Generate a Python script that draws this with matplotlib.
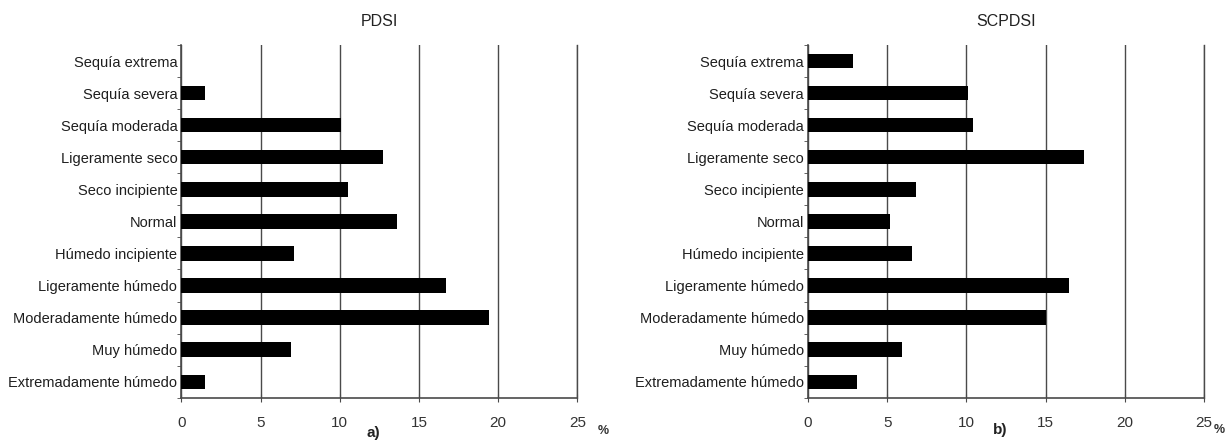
import matplotlib.pyplot as plt
import numpy as np

# Drought classes, top to bottom as in the figure
categories = ["Sequía extrema", "Sequía severa", "Sequía moderada",
              "Ligeramente seco", "Seco incipiente", "Normal",
              "Húmedo incipiente", "Ligeramente húmedo",
              "Moderadamente húmedo", "Muy húmedo", "Extremadamente húmedo"]

# Frequency (%) of each class
pdsi = [0.0, 1.5, 10.1, 12.7, 10.5, 13.6, 7.1, 16.7, 19.4, 6.9, 1.5]
scpdsi = [2.85, 10.1, 10.4, 17.4, 6.85, 5.2, 6.6, 16.5, 15.0, 5.95, 3.1]

xticks = [0, 5, 10, 15, 20, 25]
titles = ["PDSI", "SCPDSI"]
panel_labels = ["a)", "b)"]

plt.rcParams['font.family'] = ['Liberation Sans', 'DejaVu Sans']

fig = plt.figure(figsize=(12.26, 4.41), dpi=100)
ax_left = fig.add_axes([0.148, 0.098, 0.323, 0.80])
ax_right = fig.add_axes([0.659, 0.098, 0.323, 0.80])

grid_col = '#4a4a4a'

for ax, vals, title, lab in zip([ax_left, ax_right], [pdsi, scpdsi], titles, panel_labels):
    y = np.arange(len(categories))
    ax.barh(y, vals, height=0.45, color='black', zorder=3)
    ax.set_xlim(0, 25)
    ax.set_ylim(len(categories) - 0.5, -0.5)

    # category labels without ticks, small ticks at class boundaries
    ax.set_yticks(y)
    ax.set_yticklabels(categories, fontsize=10.5, color='#1e1e1e')
    ax.tick_params(axis='y', which='major', length=0, pad=3)
    ax.set_yticks(np.arange(len(categories) + 1) - 0.5, minor=True)
    ax.tick_params(axis='y', which='minor', length=3, direction='out', color=grid_col)

    ax.set_xticks(xticks)
    ax.set_xticklabels([str(t) for t in xticks], fontsize=11, color='#333333')
    ax.tick_params(axis='x', length=6, direction='inout', pad=10, color=grid_col)

    ax.grid(axis='x', color=grid_col, linewidth=1.0, zorder=1)
    ax.spines['top'].set_visible(False)
    ax.spines['right'].set_color(grid_col)
    ax.spines['right'].set_linewidth(1.0)
    for side in ['left', 'bottom']:
        ax.spines[side].set_color(grid_col)
        ax.spines[side].set_linewidth(1.2)

    ax.set_title(title, fontsize=11.5, color='#222222', pad=14)

# axis unit and panel letters
ax_left.text(1.065, -0.095, "%", transform=ax_left.transAxes, fontsize=9,
             fontweight='bold', color='#333333', ha='center', va='center')
ax_right.text(1.04, -0.09, "%", transform=ax_right.transAxes, fontsize=9,
              fontweight='bold', color='#333333', ha='center', va='center')
ax_left.text(0.485, -0.1, "a)", transform=ax_left.transAxes, fontsize=11,
             fontweight='bold', color='#222222', ha='center', va='center')
ax_right.text(0.485, -0.09, "b)", transform=ax_right.transAxes, fontsize=11,
              fontweight='bold', color='#222222', ha='center', va='center')

fig.savefig("out.png", dpi=100)
